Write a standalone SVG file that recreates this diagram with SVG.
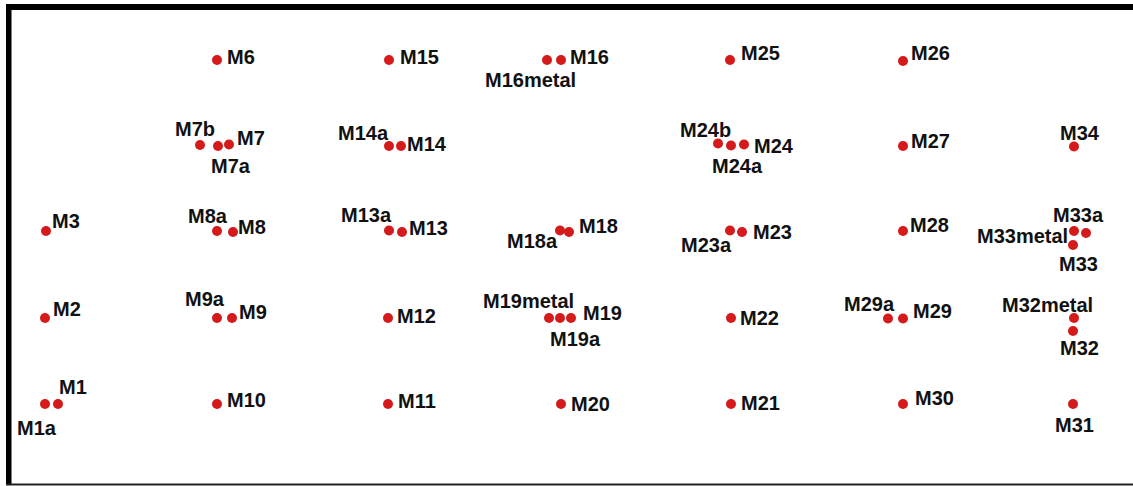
<svg xmlns="http://www.w3.org/2000/svg" width="1133" height="486" viewBox="0 0 1133 486">
  <style>
    .dot { fill: #d41a1a; }
    .lbl { font-family: "Liberation Sans", Arial, sans-serif; font-weight: bold; font-size: 20px; fill: #111; }
  </style>
  <defs>
    <circle id="pt" r="5" class="dot"/>
  </defs>

  <!-- page background and frame -->
  <rect x="0" y="0" width="1133" height="486" fill="#fff"/>
  <g id="frame">
    <rect x="6" y="4" width="1127" height="6" fill="#000"/>
    <rect x="6" y="4" width="5.5" height="481" fill="#000"/>
    <rect x="6" y="483.5" width="1127" height="2" fill="#222"/>
  </g>

  <!-- column 1 -->
  <g id="M3"><use href="#pt" x="46" y="231"/><text class="lbl" x="52" y="228">M3</text></g>
  <g id="M2"><use href="#pt" x="45" y="318"/><text class="lbl" x="53" y="316">M2</text></g>
  <g id="M1a"><use href="#pt" x="45" y="404"/><text class="lbl" x="17" y="435">M1a</text></g>
  <g id="M1"><use href="#pt" x="58" y="404"/><text class="lbl" x="59" y="394">M1</text></g>

  <!-- column 2 -->
  <g id="M6"><use href="#pt" x="217" y="60"/><text class="lbl" x="227" y="64">M6</text></g>
  <g id="M7b"><use href="#pt" x="200" y="145"/><text class="lbl" x="175" y="136">M7b</text></g>
  <g id="M7a"><use href="#pt" x="218" y="146"/><text class="lbl" x="211" y="173">M7a</text></g>
  <g id="M7"><use href="#pt" x="229" y="144.5"/><text class="lbl" x="237" y="145">M7</text></g>
  <g id="M8a"><use href="#pt" x="217" y="231"/><text class="lbl" x="188" y="223">M8a</text></g>
  <g id="M8"><use href="#pt" x="233" y="232"/><text class="lbl" x="238" y="234">M8</text></g>
  <g id="M9a"><use href="#pt" x="217" y="318"/><text class="lbl" x="185" y="306">M9a</text></g>
  <g id="M9"><use href="#pt" x="232" y="318"/><text class="lbl" x="239" y="319">M9</text></g>
  <g id="M10"><use href="#pt" x="217" y="404"/><text class="lbl" x="227" y="407">M10</text></g>

  <!-- column 3 -->
  <g id="M15"><use href="#pt" x="389" y="60"/><text class="lbl" x="400" y="64">M15</text></g>
  <g id="M14a"><use href="#pt" x="389" y="146"/><text class="lbl" x="338" y="140">M14a</text></g>
  <g id="M14"><use href="#pt" x="401" y="146"/><text class="lbl" x="407" y="151">M14</text></g>
  <g id="M13a"><use href="#pt" x="389" y="230.5"/><text class="lbl" x="341" y="222">M13a</text></g>
  <g id="M13"><use href="#pt" x="402" y="232"/><text class="lbl" x="409" y="235">M13</text></g>
  <g id="M12"><use href="#pt" x="388" y="318"/><text class="lbl" x="397" y="323">M12</text></g>
  <g id="M11"><use href="#pt" x="388" y="404"/><text class="lbl" x="398" y="408">M11</text></g>

  <!-- column 4 -->
  <g id="M16metal"><use href="#pt" x="547" y="60"/><text class="lbl" x="485" y="87">M16metal</text></g>
  <g id="M16"><use href="#pt" x="561" y="60"/><text class="lbl" x="570" y="64">M16</text></g>
  <g id="M18a"><use href="#pt" x="560" y="230.5"/><text class="lbl" x="507" y="248">M18a</text></g>
  <g id="M18"><use href="#pt" x="569" y="232"/><text class="lbl" x="579" y="233">M18</text></g>
  <g id="M19metal"><use href="#pt" x="549" y="318"/><text class="lbl" x="483" y="308">M19metal</text></g>
  <g id="M19a"><use href="#pt" x="560" y="318"/><text class="lbl" x="550" y="346">M19a</text></g>
  <g id="M19"><use href="#pt" x="571" y="318"/><text class="lbl" x="583" y="320">M19</text></g>
  <g id="M20"><use href="#pt" x="561" y="404"/><text class="lbl" x="571" y="411">M20</text></g>

  <!-- column 5 -->
  <g id="M25"><use href="#pt" x="730" y="60"/><text class="lbl" x="741" y="60">M25</text></g>
  <g id="M24b"><use href="#pt" x="718" y="143.5"/><text class="lbl" x="680" y="137">M24b</text></g>
  <g id="M24a"><use href="#pt" x="731" y="145.5"/><text class="lbl" x="712" y="173">M24a</text></g>
  <g id="M24"><use href="#pt" x="744" y="144.5"/><text class="lbl" x="754" y="153">M24</text></g>
  <g id="M23a"><use href="#pt" x="730" y="230.5"/><text class="lbl" x="681" y="252">M23a</text></g>
  <g id="M23"><use href="#pt" x="742" y="232"/><text class="lbl" x="753" y="239">M23</text></g>
  <g id="M22"><use href="#pt" x="731" y="318"/><text class="lbl" x="740" y="325">M22</text></g>
  <g id="M21"><use href="#pt" x="731" y="404"/><text class="lbl" x="741" y="410">M21</text></g>

  <!-- column 6 -->
  <g id="M26"><use href="#pt" x="903" y="61"/><text class="lbl" x="911" y="60">M26</text></g>
  <g id="M27"><use href="#pt" x="903" y="146"/><text class="lbl" x="911" y="148">M27</text></g>
  <g id="M28"><use href="#pt" x="903" y="231"/><text class="lbl" x="910" y="232">M28</text></g>
  <g id="M29a"><use href="#pt" x="888" y="318.5"/><text class="lbl" x="844" y="311">M29a</text></g>
  <g id="M29"><use href="#pt" x="903" y="318.5"/><text class="lbl" x="913" y="318">M29</text></g>
  <g id="M30"><use href="#pt" x="903" y="404"/><text class="lbl" x="915" y="405">M30</text></g>

  <!-- column 7 -->
  <g id="M34"><use href="#pt" x="1074" y="146.5"/><text class="lbl" x="1060" y="140">M34</text></g>
  <g id="M33metal"><use href="#pt" x="1074" y="231"/><text class="lbl" x="977" y="243">M33metal</text></g>
  <g id="M33a"><use href="#pt" x="1086" y="233"/><text class="lbl" x="1053" y="222">M33a</text></g>
  <g id="M33"><use href="#pt" x="1073" y="245"/><text class="lbl" x="1059" y="271">M33</text></g>
  <g id="M32metal"><use href="#pt" x="1074" y="318"/><text class="lbl" x="1002" y="312">M32metal</text></g>
  <g id="M32"><use href="#pt" x="1073" y="331"/><text class="lbl" x="1060" y="355">M32</text></g>
  <g id="M31"><use href="#pt" x="1073" y="404"/><text class="lbl" x="1055" y="432">M31</text></g>
</svg>
